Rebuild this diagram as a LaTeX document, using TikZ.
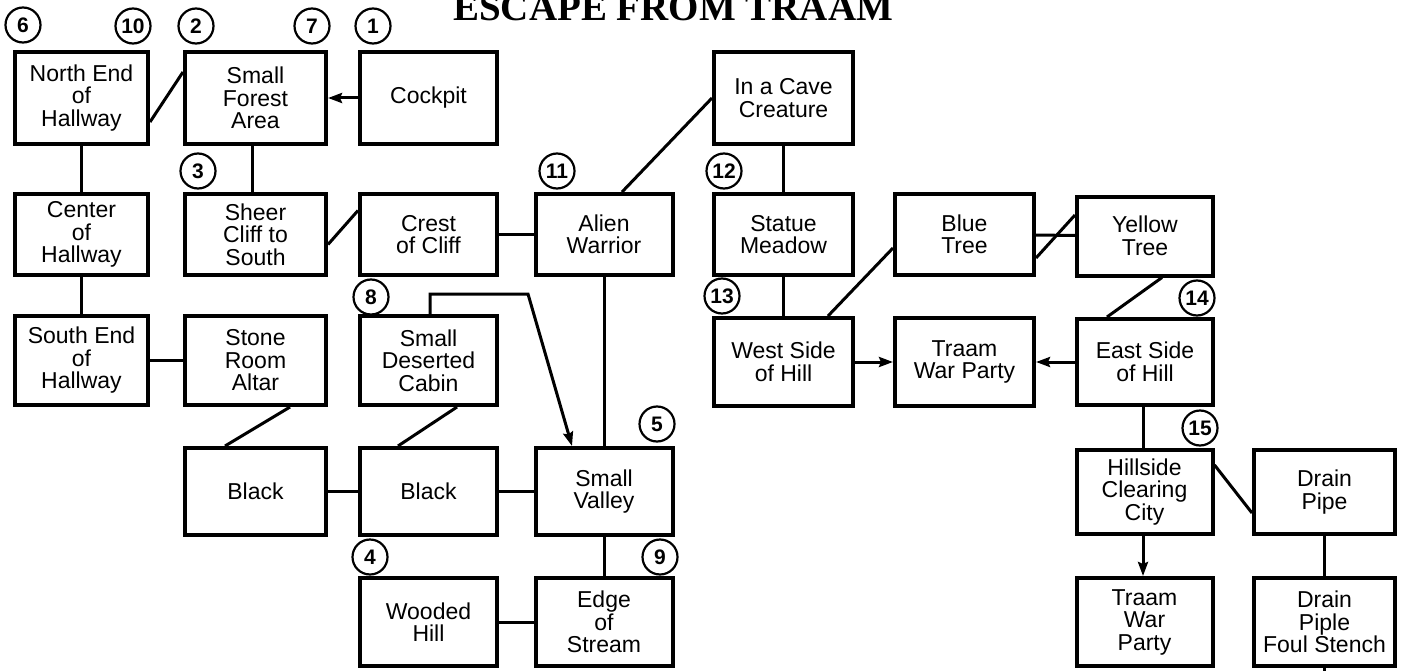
\documentclass[tikz,border=0pt]{standalone}
\usepackage{fontspec}
\setsansfont{Liberation Sans}
\newfontfamily\titlefont{Liberation Serif}
\usepackage{tikz}
\usetikzlibrary{arrows.meta, positioning, calc}
\tikzset{
  traam/room/.style   = {draw, line width=4pt, align=center, minimum width=137pt,
                         minimum height=88pt, inner sep=2pt,
                         font=\fontsize{23}{22.5}\selectfont\sffamily},
  traam/num/.style    = {circle, draw, fill=white, line width=2.2pt, minimum size=35pt,
                         inner sep=0pt, font=\fontsize{21}{21}\selectfont\sffamily\bfseries},
  traam/link/.style   = {line width=3pt},
  traam/arrow/.style  = {-{Stealth[length=14pt, width=10pt, inset=2pt]}, line width=3pt},
  traam/title/.style  = {font=\fontsize{39}{39}\selectfont\titlefont\bfseries, inner sep=0pt},
}
\begin{document}
\begin{tikzpicture}[x=1pt, y=-1pt]
      \useasboundingbox (0,0) rectangle (1404,671);
      \node[traam/title, anchor=base west] (title) at (453, 21) {ESCAPE FROM TRAAM};
      % hallway
      \node[traam/room, minimum width=133pt, minimum height=92pt] (nhall) at (81.5, 98) {North End\\of\\Hallway};
      \node[traam/room, minimum width=133pt, minimum height=81pt] (chall) at (81.5, 234.5) {Center\\of\\Hallway};
      \node[traam/room, minimum width=133pt, minimum height=89pt] (shall) at (81.5, 360.5) {South End\\of\\Hallway};
      % forest and cliff
      \node[traam/room, minimum width=141pt, minimum height=92pt] (forest) at (255.5, 98) {Small\\Forest\\Area};
      \node[traam/room, minimum height=92pt] (cockpit) at (428.5, 98) {Cockpit};
      \node[traam/room, minimum width=141pt, minimum height=81pt] (sheer) at (255.5, 234.5) {Sheer\\Cliff to\\South};
      \node[traam/room, minimum height=81pt] (crest) at (428.5, 234.5) {Crest\\of Cliff};
      \node[traam/room, minimum height=81pt] (alien) at (604, 234.5) {Alien\\Warrior};
      \node[traam/room, minimum width=141pt, minimum height=89pt] (stone) at (255.5, 360.5) {Stone\\Room\\Altar};
      \node[traam/room, minimum height=89pt] (cabin) at (428.5, 360.5) {Small\\Deserted\\Cabin};
      \node[traam/room, minimum width=141pt, minimum height=87pt] (black1) at (255.5, 491.5) {Black};
      \node[traam/room, minimum height=87pt] (black2) at (428.5, 491.5) {Black};
      \node[traam/room, minimum height=87pt] (valley) at (604, 491.5) {Small\\Valley};
      \node[traam/room] (wooded) at (428.5, 622) {Wooded\\Hill};
      \node[traam/room] (edge) at (604, 622) {Edge\\of\\Stream};
      % hill
      \node[traam/room, minimum width=139pt, minimum height=92pt] (cave) at (783.5, 98) {In a Cave\\Creature};
      \node[traam/room, minimum width=139pt, minimum height=81pt] (statue) at (783.5, 234.5) {Statue\\Meadow};
      \node[traam/room, minimum width=139pt, minimum height=81pt] (blue) at (964.5, 234.5) {Blue\\Tree};
      \node[traam/room, minimum width=136pt, minimum height=79pt] (yellow) at (1145, 236) {Yellow\\Tree};
      \node[traam/room, minimum width=139pt] (west) at (783.5, 362) {West Side\\of Hill};
      \node[traam/room, minimum width=139pt] (traam) at (964.5, 362) {Traam\\War Party};
      \node[traam/room, minimum width=136pt, minimum height=86pt] (east) at (1145, 362) {East Side\\of Hill};
      \node[traam/room, minimum width=136pt, minimum height=84pt] (hill) at (1144.5, 492) {Hillside\\Clearing\\City};
      \node[traam/room, minimum width=141pt, minimum height=84pt] (drain) at (1324.5, 492) {Drain\\Pipe};
      \node[traam/room, minimum width=136pt] (party) at (1144.5, 622) {Traam\\War\\Party};
      \node[traam/room, minimum width=141pt] (piple) at (1324.5, 622) {Drain\\Piple\\Foul Stench};
      \coordinate (stub) at (1324.5, 671);
      % numbers
      \node[traam/num] (n1) at (373, 26) {1};
      \node[traam/num] (n2) at (196, 26) {2};
      \node[traam/num] (n3) at (198, 171) {3};
      \node[traam/num] (n4) at (370, 557) {4};
      \node[traam/num] (n5) at (657, 424) {5};
      \node[traam/num] (n6) at (23, 25) {6};
      \node[traam/num] (n7) at (312, 26) {7};
      \node[traam/num] (n8) at (371, 297) {8};
      \node[traam/num] (n9) at (660, 557) {9};
      \node[traam/num] (n10) at (133, 26) {10};
      \node[traam/num] (n11) at (557, 171) {11};
      \node[traam/num] (n12) at (724, 171) {12};
      \node[traam/num] (n13) at (722, 296) {13};
      \node[traam/num] (n14) at (1197, 298) {14};
      \node[traam/num] (n15) at (1200, 428) {15};
      % links
      \draw[traam/link] ([yshift=-24pt]nhall.east) -- ([yshift=26pt]forest.west);
      \draw[traam/arrow] (cockpit) -- (forest);
      \draw[traam/link] (nhall) -- (chall);
      \draw[traam/link] (chall) -- (shall);
      \draw[traam/link] ([xshift=-3pt]forest.south) -- ([xshift=-3pt]sheer.north);
      \draw[traam/link] ([yshift=-10pt]sheer.east) -- ([yshift=24pt]crest.west);
      \draw[traam/link] (crest) -- (alien);
      \draw[traam/link] ([xshift=18pt]alien.north) -- (cave.west);
      \draw[traam/link] (alien) -- (valley);
      \draw[traam/link] (shall) -- (stone);
      \draw[traam/link] ([xshift=34.5pt]stone.south) -- ([xshift=-30.5pt]black1.north);
      \draw[traam/link] ([xshift=28.5pt]cabin.south) -- ([xshift=-30.5pt]black2.north);
      \draw[traam/link] (black1) -- (black2);
      \draw[traam/link] (black2) -- (valley);
      \draw[traam/link] (valley) -- (edge);
      \draw[traam/link] (wooded) -- (edge);
      \coordinate (bend) at (528, 294);
      \draw[traam/arrow] ([xshift=1.5pt]cabin.north) |- (bend) -- ([xshift=-32pt]valley.north);
      % hill links
      \draw[traam/link] (cave) -- (statue);
      \draw[traam/link] (statue) -- (west);
      \draw[traam/link] ([xshift=44.5pt]west.north) -- ([yshift=-13.5pt]blue.west);
      \draw[traam/link] (blue) -- (yellow);
      \draw[traam/link] ([yshift=-23.5pt]blue.east) -- ([yshift=21pt]yellow.west);
      \draw[traam/link] ([xshift=17pt]yellow.south) -- ([xshift=-38pt]east.north);
      \draw[traam/arrow] (west) -- (traam);
      \draw[traam/arrow] (east) -- (traam);
      \draw[traam/link] ([xshift=-2pt]east.south) -- ([xshift=-1.5pt]hill.north);
      \draw[traam/arrow] ([xshift=-1.5pt]hill.south) -- ([xshift=-1.5pt]party.north);
      \draw[traam/link] ([yshift=27pt]hill.east) -- ([yshift=-21pt]drain.west);
      \draw[traam/link] (drain) -- (piple);
      \draw[traam/link] (piple) -- (stub);
    \end{tikzpicture}
\end{document}
